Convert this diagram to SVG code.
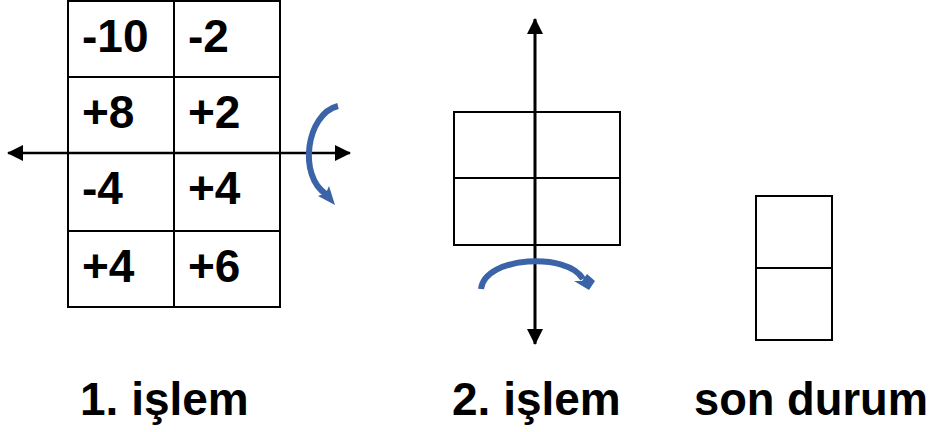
<svg xmlns="http://www.w3.org/2000/svg" width="933" height="432" viewBox="0 0 933 432">
<style>
.cell{fill:#fff;stroke:#000;stroke-width:2}
.num{font-family:"Liberation Sans",Arial,sans-serif;font-weight:bold;font-size:46px;fill:#000}
.lbl{font-family:"Liberation Sans",Arial,sans-serif;font-weight:bold;font-size:46px;fill:#000}
.axis{stroke:#000;stroke-width:2.5;fill:none;marker-start:url(#ah);marker-end:url(#ah)}
.rot{stroke:#3A63A8;stroke-width:6;fill:none}
.rhead{fill:#3A63A8}
</style>
<defs>
<marker id="ah" markerUnits="userSpaceOnUse" markerWidth="16" markerHeight="16" viewBox="0 0 16 16" refX="15" refY="8" orient="auto-start-reverse">
<path d="M0,0 L16,8 L0,16 Z" fill="#000"/>
</marker>
</defs>
<g id="table1">
<rect class="cell" x="68" y="1" width="212" height="306"/>
<line class="cell" x1="174" y1="1" x2="174" y2="307"/>
<line class="cell" x1="68" y1="77" x2="280" y2="77"/>
<line class="cell" x1="68" y1="231" x2="280" y2="231"/>
<text class="num" x="82" y="52">-10</text>
<text class="num" x="188" y="52">-2</text>
<text class="num" x="82" y="128">+8</text>
<text class="num" x="188" y="128">+2</text>
<text class="num" x="82" y="204">-4</text>
<text class="num" x="188" y="204">+4</text>
<text class="num" x="82" y="282">+4</text>
<text class="num" x="188" y="282">+6</text>
</g>
<g id="panel2">
<rect class="cell" x="454" y="112" width="166" height="133"/>
<line class="cell" x1="454" y1="178" x2="620" y2="178"/>
</g>
<g id="panel3">
<rect class="cell" x="756" y="196" width="76" height="144"/>
<line class="cell" x1="756" y1="268" x2="832" y2="268"/>
</g>
<g id="connectors">
<line class="axis" x1="8" y1="153" x2="350" y2="153"/>
<line class="axis" x1="535" y1="19" x2="535" y2="344" style="stroke-width:3"/>
<path class="rot" d="M338,106 C306,114 298,176 326,194"/>
<path class="rhead" d="M335,205 L318,196 L326,193 L329,186 Z"/>
<path class="rot" d="M481,289 C485,256 568,252 583,279"/>
<path class="rhead" d="M589,290 L574,281 L582,281 L587,274 L595,281 Z"/>
</g>
<g id="labels">
<text class="lbl" x="80" y="415">1. işlem</text>
<text class="lbl" x="452" y="415">2. işlem</text>
<text class="lbl" x="694" y="415" textLength="234" lengthAdjust="spacingAndGlyphs">son durum</text>
</g>
</svg>
